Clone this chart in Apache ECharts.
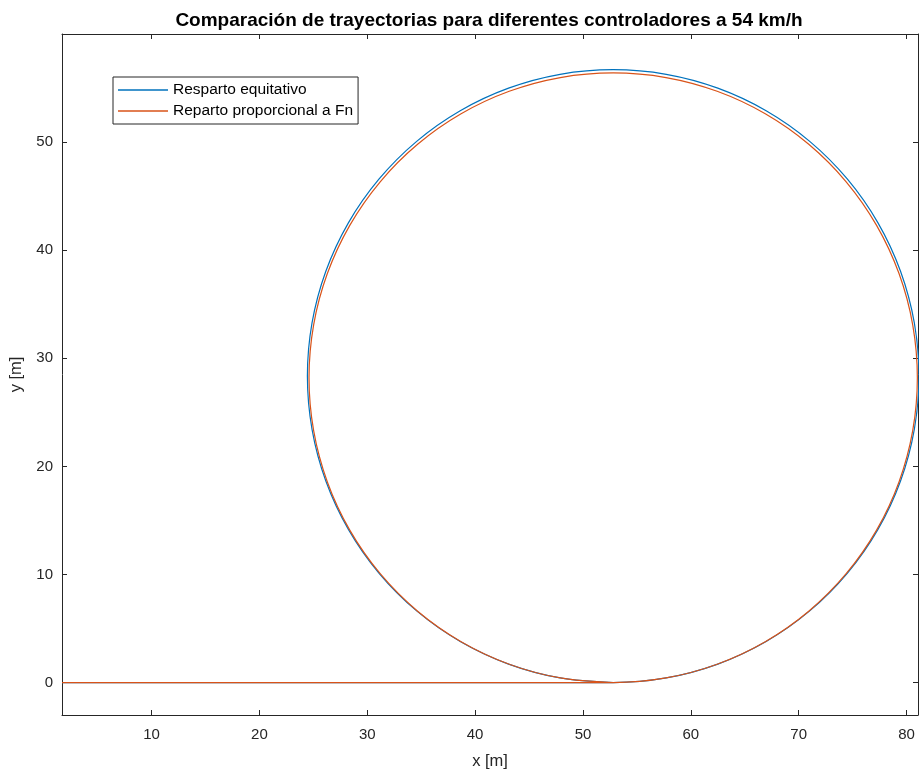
<!DOCTYPE html>
<html>
<head>
<meta charset="utf-8">
<title>Comparación de trayectorias</title>
<script src="https://cdn.jsdelivr.net/npm/echarts@6/dist/echarts.min.js"></script>
<style>
    html, body { margin: 0; padding: 0; background: #fff; }
    #chart { width: 919px; height: 772px; }
</style>
</head>
<body>
<div id="chart"></div>
<script>
// trayectorias, puntos [x, y] en metros
var equitativo = [
    [1.7, 0], [52.8, 0], [57.72, 0.43], [62.5, 1.71], [66.98, 3.8], [71.02, 6.63],
    [74.52, 10.13], [77.35, 14.17], [79.44, 18.65], [80.72, 23.43], [81.15, 28.35],
    [80.72, 33.27], [79.44, 38.05], [77.35, 42.53], [74.52, 46.57], [71.02, 50.07],
    [66.98, 52.9], [62.5, 54.99], [57.72, 56.27], [52.8, 56.7], [47.88, 56.27],
    [43.1, 54.99], [38.62, 52.9], [34.58, 50.07], [31.08, 46.57], [28.25, 42.53],
    [26.16, 38.05], [24.88, 33.27], [24.45, 28.35], [24.88, 23.43], [26.16, 18.65],
    [28.25, 14.17], [31.08, 10.13], [34.58, 6.63], [38.62, 3.8], [43.1, 1.71],
    [47.88, 0.43], [52.8, 0]
];
var proporcional = [
    [1.7, 0], [52.8, 0], [57.7, 0.43], [62.44, 1.7], [66.9, 3.78], [70.93, 6.6],
    [74.4, 10.07], [77.22, 14.1], [79.3, 18.56], [80.57, 23.3], [81.0, 28.2],
    [80.57, 33.1], [79.3, 37.84], [77.22, 42.3], [74.4, 46.33], [70.93, 49.8],
    [66.9, 52.62], [62.44, 54.7], [57.7, 55.97], [52.8, 56.4], [47.9, 55.97],
    [43.16, 54.7], [38.7, 52.62], [34.67, 49.8], [31.2, 46.33], [28.38, 42.3],
    [26.3, 37.84], [25.03, 33.1], [24.6, 28.2], [25.03, 23.3], [26.3, 18.56],
    [28.38, 14.1], [31.2, 10.07], [34.67, 6.6], [38.7, 3.78], [43.16, 1.7],
    [47.9, 0.43], [52.8, 0]
];
var nombres = ['Resparto equitativo', 'Reparto proporcional a Fn'];
var colores = ['#0072BD', '#D95319'];
var xLim = [1.7, 81.06];
var yLim = [-3, 60];

var font = 'Liberation Sans, Arial, Helvetica, sans-serif';
var ejeColor = '#262626';

function tickLabel(v) {
    // solo multiplos de 10, como en la figura original
    return (Math.abs(v % 10) < 1e-6) ? String(v) : '';
}

function ejeX(pos, labels) {
    return {
        type: 'value', position: pos, min: xLim[0], max: xLim[1], splitNumber: 8,
        name: labels ? 'x [m]' : '', nameLocation: 'middle', nameGap: 38,
        nameTextStyle: { color: ejeColor, fontSize: 16.5, fontFamily: font },
        axisLine: { show: true, onZero: false, lineStyle: { color: ejeColor, width: 1 } },
        axisTick: { show: true, inside: true, length: 5, lineStyle: { color: ejeColor } },
        axisLabel: { show: labels, formatter: tickLabel, showMinLabel: false, showMaxLabel: false,
            color: ejeColor, fontSize: 15, fontFamily: font, margin: 12 },
        splitLine: { show: false }
    };
}

function ejeY(pos, labels) {
    return {
        type: 'value', position: pos, min: yLim[0], max: yLim[1], splitNumber: 7,
        name: labels ? 'y [m]' : '', nameLocation: 'middle', nameGap: 35,
        nameTextStyle: { color: ejeColor, fontSize: 16.5, fontFamily: font },
        axisLine: { show: true, onZero: false, lineStyle: { color: ejeColor, width: 1 } },
        axisTick: { show: true, inside: true, length: 5, lineStyle: { color: ejeColor } },
        axisLabel: { show: labels, formatter: tickLabel, showMinLabel: false, showMaxLabel: false,
            color: ejeColor, fontSize: 15, fontFamily: font, margin: 9 },
        splitLine: { show: false }
    };
}

var chart = echarts.init(document.getElementById('chart'), null, { renderer: 'canvas' });

var option = {
    backgroundColor: '#fff',
    animation: false,
    title: {
        text: 'Comparación de trayectorias para diferentes controladores a 54 km/h',
        left: 484, top: 6, textAlign: 'center',
        textStyle: { color: '#000', fontSize: 19, fontWeight: 'bold', fontFamily: font }
    },
    legend: {
        orient: 'vertical', left: 113, top: 77,
        data: nombres,
        icon: 'rect', itemWidth: 50, itemHeight: 1.5, itemGap: 5,
        padding: [5, 5, 5, 5],
        backgroundColor: '#fff', borderColor: ejeColor, borderWidth: 1,
        textStyle: { color: '#000', fontSize: 15.5, fontFamily: font, lineHeight: 15 }
    },
    grid: { left: 62, right: 1, top: 34, bottom: 57, containLabel: false, outerBoundsMode: 'none' },
    xAxis: [ejeX('bottom', true), ejeX('top', false)],
    yAxis: [ejeY('left', true), ejeY('right', false)],
    series: [
        {
            name: nombres[0], type: 'line', data: equitativo, smooth: 0.35,
            showSymbol: false, symbol: 'none', clip: true,
            itemStyle: { color: colores[0] },
            lineStyle: { color: colores[0], width: 1.2 }
        },
        {
            name: nombres[1], type: 'line', data: proporcional, smooth: 0.35,
            showSymbol: false, symbol: 'none', clip: true,
            itemStyle: { color: colores[1] },
            lineStyle: { color: colores[1], width: 1.2 }
        }
    ]
};

chart.setOption(option);
</script>
</body>
</html>
